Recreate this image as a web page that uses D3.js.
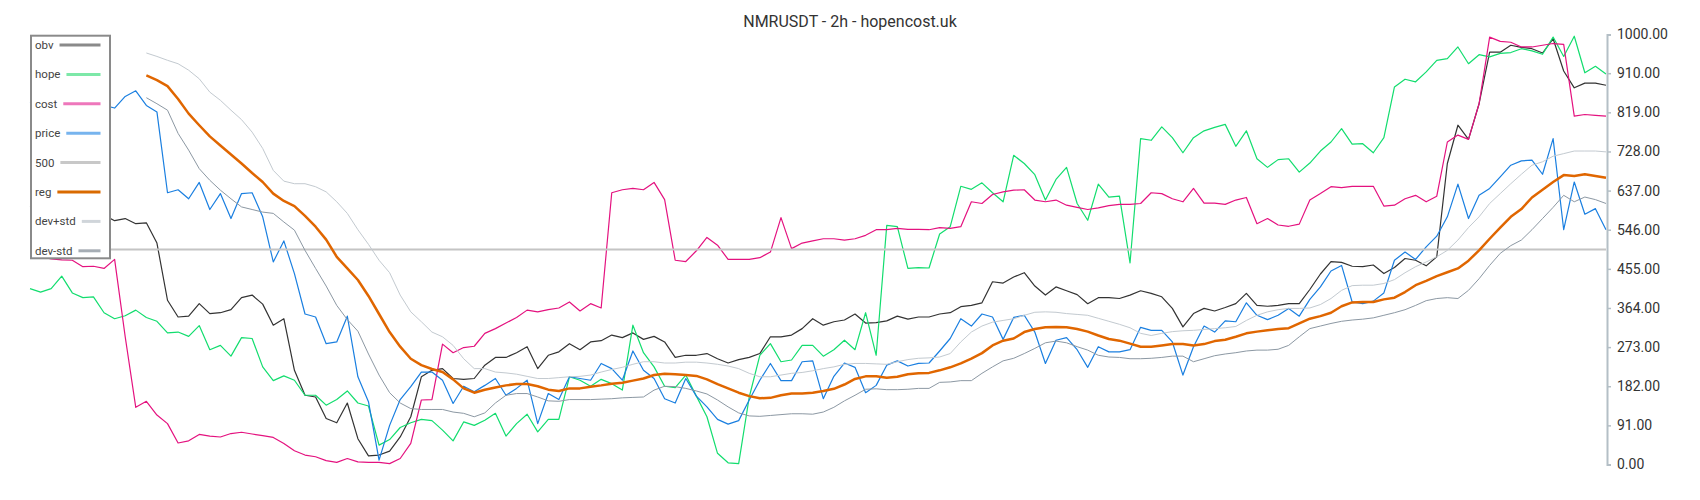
<!DOCTYPE html>
<html>
<head>
<meta charset="utf-8">
<script src="https://cdn.jsdelivr.net/npm/d3@7"></script>
<style>
  body { margin: 0; background: #fff; }
  svg { display: block; font-family: Roboto, sans-serif; }
</style>
</head>
<body>
<svg id="chart" width="1700" height="500"></svg>
<script>
// ---- data (150 samples each) ----
const title = "NMRUSDT - 2h - hopencost.uk";
const yTicks = [0, 91, 182, 273, 364, 455, 546, 637, 728, 819, 910, 1000];
const refLevel = 500;

const obv = [600,595,605,590,600,585,595,580,567,572,560,562,515,382,343,345,374,351,353,360,388,394,373,324,339,219,
  161,157,107,97,143,60,20,22,31,64,111,204,219,223,200,198,200,231,249,249,260,274,223,254,262,281,
  267,285,288,301,295,306,291,298,285,249,254,254,258,246,236,244,249,258,297,297,301,316,339,324,332,336,
  350,329,330,334,345,338,343,343,350,353,367,370,376,425,422,436,446,415,394,413,404,395,374,388,388,386,
  394,404,398,390,363,320,351,363,357,365,374,398,370,368,370,374,374,407,443,472,470,461,460,464,444,458,
  479,475,462,483,700,789,756,839,959,959,975,970,967,957,990,915,876,887,887,882];

const hope = [409,401,409,438,399,388,390,353,339,346,359,342,333,306,308,298,323,267,277,252,295,293,227,195,206,196,
  161,161,138,151,171,143,136,45,58,86,97,105,102,80,55,99,91,103,119,66,95,117,76,105,105,204,
  196,182,198,188,173,324,260,227,182,179,208,159,111,26,4,2,157,254,281,239,243,277,277,252,267,289,
  267,353,254,556,553,456,458,457,536,553,647,640,655,632,611,719,700,674,615,663,691,607,568,652,622,624,
  469,758,754,785,760,725,760,776,784,791,740,776,711,691,709,711,680,701,729,750,781,745,746,725,760,878,
  896,890,913,940,944,971,932,953,948,956,958,967,962,954,994,949,996,911,926,908];

const cost = [480,484,478,476,475,460,461,456,477,297,133,147,115,95,50,55,70,66,64,72,75,71,67,63,49,32,
  22,18,9,5,14,6,5,5,2,14,49,150,151,280,260,272,275,305,316,329,342,359,355,360,364,378,
  357,374,364,632,639,642,639,656,616,475,472,497,528,510,477,477,477,481,494,574,502,515,520,525,525,522,
  525,533,546,546,549,547,547,546,551,549,553,611,607,628,634,638,639,615,611,615,603,598,593,597,602,605,
  605,607,632,630,618,611,642,608,608,605,615,621,560,572,557,554,559,615,630,646,644,647,647,647,601,603,
  618,626,611,624,750,766,756,839,994,984,982,971,971,975,979,977,810,814,812,810];

const price = [840,850,835,845,840,830,845,835,829,856,869,835,820,632,639,618,656,593,630,572,630,632,576,471,520,444,
  350,343,281,285,345,204,146,10,91,151,181,215,215,196,142,182,169,184,200,161,177,196,95,165,151,204,
  200,196,235,223,196,264,219,200,153,143,200,159,134,105,94,102,150,196,235,195,195,239,241,153,205,236,
  226,167,184,231,241,229,235,236,264,293,339,322,350,343,291,342,347,308,235,289,295,267,226,274,262,262,
  267,319,312,312,285,208,274,322,308,334,332,376,347,337,347,363,345,384,413,450,463,378,374,380,399,475,
  494,477,506,531,576,652,572,626,642,669,696,706,708,675,758,546,657,582,595,546];

const reg = [null,null,null,null,null,null,null,null,null,null,null,905,894,880,850,816,789,763,742,721,700,678,657,630,613,601,
  578,553,523,483,456,429,392,350,308,274,246,231,222,215,198,177,167,174,179,184,187,187,182,174,171,177,
  177,181,184,188,190,195,200,208,211,210,208,206,198,187,177,167,159,154,155,161,165,165,167,171,176,186,
  199,205,205,202,204,210,212,213,219,226,235,246,259,277,288,293,308,315,319,320,319,315,309,300,292,288,
  281,274,274,277,280,280,277,280,287,290,297,305,309,312,315,317,328,339,345,353,368,377,378,378,384,388,
  401,417,427,438,447,456,474,498,525,551,576,594,621,639,657,673,671,675,671,667];

const devPlus = [null,null,null,null,null,null,null,null,null,null,null,957,949,940,932,917,897,866,847,824,802,773,735,684,659,653,
  653,646,634,611,584,546,512,475,446,394,355,332,308,297,277,246,223,223,215,213,210,205,200,200,202,204,
  205,208,215,221,226,233,239,239,236,236,238,238,236,233,229,223,212,204,204,208,212,214,218,223,227,233,
  235,235,234,233,239,244,247,248,250,258,285,308,322,331,335,339,347,354,355,354,351,349,347,340,333,326,
  318,305,300,305,309,311,312,314,316,318,321,335,347,355,360,363,363,364,372,386,405,416,417,417,421,430,
  446,460,471,483,498,522,551,576,607,630,653,675,696,704,717,723,729,729,729,727];

const devMinus = [null,null,null,null,null,null,null,null,null,null,null,853,839,824,770,731,688,661,638,618,599,593,587,584,564,545,
  498,456,415,370,337,310,257,208,167,143,130,128,128,128,122,119,111,120,143,161,165,165,157,148,147,151,
  151,151,152,153,155,156,157,173,182,181,177,171,164,150,134,120,113,112,114,116,118,118,117,122,133,148,
  161,175,176,174,174,175,177,177,191,192,195,195,212,227,241,247,258,270,283,287,283,274,266,254,250,249,
  246,246,247,249,252,252,239,246,253,257,260,264,266,266,268,277,297,316,322,328,333,336,338,341,347,353,
  360,370,381,386,388,386,405,432,463,491,509,522,546,572,598,626,611,622,616,607];

// ---- styling ----
const series = [
  { name: "obv",     values: obv,      color: "#333333", width: 1.2, key: "#8a8a8a" },
  { name: "hope",    values: hope,     color: "#12dd6e", width: 1.2, key: "#7de8a8" },
  { name: "cost",    values: cost,     color: "#e4127f", width: 1.2, key: "#ee77bb" },
  { name: "price",   values: price,    color: "#1a7fe0", width: 1.2, key: "#77b4ee" },
  { name: "500",     values: null,     color: "#c4c4c4", width: 2,   key: "#c8c8c8" },
  { name: "reg",     values: reg,      color: "#e06600", width: 2.5, key: "#d96a00" },
  { name: "dev+std", values: devPlus,  color: "#c3cad0", width: 1,   key: "#d0d5da" },
  { name: "dev-std", values: devMinus, color: "#8c98a3", width: 1,   key: "#a6adb4" }
];

const svg = d3.select("#chart");
const n = obv.length;

const x = d3.scaleLinear().domain([0, n - 1]).range([30, 1606]);
const y = d3.scaleLinear().domain([0, 1000]).range([464.5, 34.5]);

// title
svg.append("text")
  .attr("x", 850)
  .attr("y", 26.5)
  .attr("text-anchor", "middle")
  .attr("font-size", 16)
  .attr("fill", "#333")
  .text(title);

// lines
const line = d3.line()
  .defined(d => d != null)
  .x((d, i) => x(i))
  .y(d => y(d));

const plot = svg.append("g");
series.forEach(s => {
  if (s.values) {
    plot.append("path")
      .attr("d", line(s.values))
      .attr("fill", "none")
      .attr("stroke", s.color)
      .attr("stroke-width", s.width)
      .attr("stroke-linejoin", "round");
  } else {
    plot.append("line")
      .attr("x1", x(0)).attr("x2", x(n - 1))
      .attr("y1", y(refLevel)).attr("y2", y(refLevel))
      .attr("stroke", s.color)
      .attr("stroke-width", s.width);
  }
});

// right axis
const axis = svg.append("g")
  .attr("transform", "translate(1607,0)")
  .call(d3.axisRight(y).tickValues(yTicks).tickSize(4).tickPadding(6).tickFormat(d3.format(".2f")));
axis.select(".domain").attr("stroke", "#b4bfc6").attr("stroke-width", 2);
axis.selectAll(".tick line").attr("stroke", "#b4bfc6").attr("stroke-width", 1.5);
axis.selectAll(".tick text")
  .attr("font-family", "Roboto, sans-serif")
  .attr("font-size", 14)
  .attr("fill", "#333");

// legend
const legend = svg.append("g");
legend.append("rect")
  .attr("x", 31).attr("y", 35.7)
  .attr("width", 79).attr("height", 222.6)
  .attr("fill", "#fff")
  .attr("stroke", "#8a8a8a")
  .attr("stroke-width", 2);

series.forEach((s, i) => {
  const cy = 45 + i * 29.4;
  const t = legend.append("text")
    .attr("x", 35)
    .attr("y", cy + 4)
    .attr("font-size", 11.5)
    .attr("fill", "#444")
    .text(s.name);
  const tw = t.node().getComputedTextLength();
  legend.append("line")
    .attr("x1", 35 + tw + 6).attr("x2", 100.5)
    .attr("y1", cy).attr("y2", cy)
    .attr("stroke", s.key)
    .attr("stroke-width", 3);
});
</script>
</body>
</html>
